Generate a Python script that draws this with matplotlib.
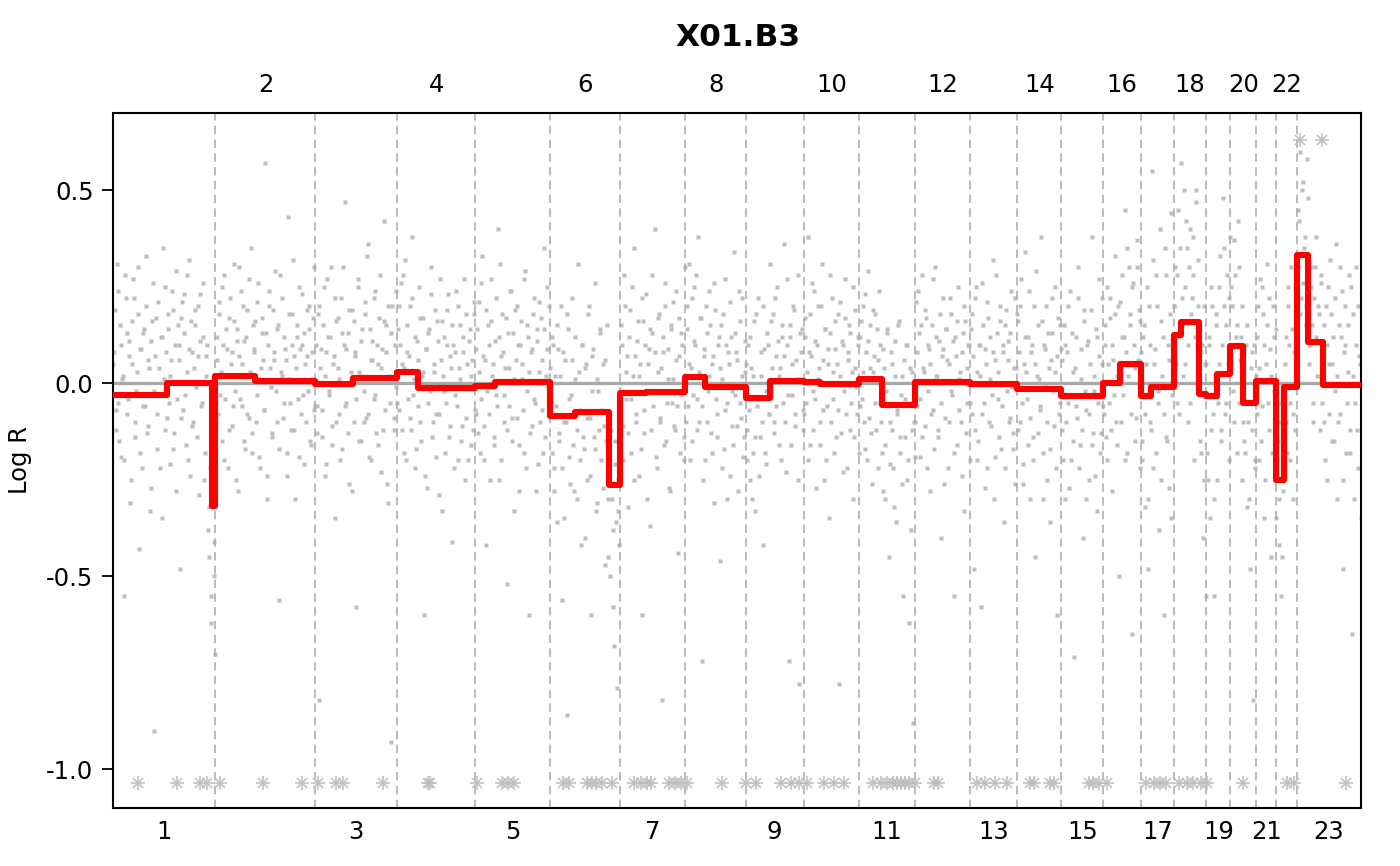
import numpy as np
import matplotlib.pyplot as plt

# chromosome lengths (Mb), 23 = X
chrom_len = [249.3, 243.2, 198.0, 191.2, 180.9, 171.1, 159.1, 146.4, 141.2, 135.5, 135.0, 133.9,
             115.2, 107.3, 102.5, 90.4, 81.2, 78.1, 59.1, 63.0, 48.1, 51.3, 155.3]
chrom_names = [str(i) for i in range(1, 24)]

# log R values per chromosome (in genomic order), two arrays of probes
logr = {
    1: [0.08, -0.12, 0.31, -0.05, 0.15, -0.19, 0.02, -0.55, 0.22, -0.08, 0.11, -0.31, 0.05, 0.27, -0.14, -0.02,
        0.18, -0.43, 0.09, -0.22, 0.13, -0.06, 0.33, -0.11, 0.04, -0.27, 0.16, -0.9, 0.07, -0.17, 0.21, -0.03,
        0.12, -0.35, 0.01, 0.25, -0.09, 0.14, -0.21, 0.06, 0.19, -0.13, 0.29, -0.04, 0.1, -0.48, 0.17, -0.07,
        0.23, -0.16, 0.03, 0.32, -0.24, 0.08, -0.1, 0.15, -0.01, 0.2, -0.29, 0.11, -0.05, 0.26, -0.18, 0.07,
        -0.38, -0.32, -0.62, -0.15, -0.41, -0.7],
    2: [0.12, -0.08, 0.21, 0.03, -0.15, 0.28, -0.04, 0.09, -0.22, 0.17, 0.05, -0.11, 0.31, -0.02, 0.14, -0.28,
        0.07, 0.24, -0.06, 0.11, -0.17, 0.19, 0.02, -0.09, 0.35, -0.13, 0.08, 0.16, -0.03, 0.26, -0.19, 0.04,
        0.13, -0.07, 0.57, -0.24, 0.1, 0.2, -0.01, -0.14, 0.06, 0.29, -0.1, 0.15, -0.56, 0.03, 0.22, -0.05,
        0.09, -0.18, 0.43, 0.01, -0.12, 0.18, 0.07, -0.3, 0.12, -0.04, 0.25, -0.08, 0.1, -0.21, 0.05, 0.19,
        -0.02, 0.14, -0.16, 0.08, 0.3, -0.06],
    3: [-0.06, 0.18, -0.82, 0.09, -0.14, 0.25, 0.02, -0.21, 0.12, -0.03, 0.3, -0.11, 0.07, -0.35, 0.16, 0.04,
        -0.08, 0.22, -0.17, 0.1, 0.47, -0.05, 0.13, -0.26, 0.01, 0.19, -0.1, 0.08, -0.58, 0.27, 0.03, -0.15,
        0.14, -0.02, 0.21, -0.09, 0.36, -0.19, 0.06, 0.11, -0.04, 0.24, -0.13, 0.05, 0.17, -0.23, 0.09, 0.42,
        -0.07, 0.15, -0.31, 0.02, -0.93, 0.2, -0.12, 0.1, -0.01],
    4: [0.14, -0.07, 0.26, 0.05, -0.18, 0.32, 0.08, -0.04, 0.2, -0.12, 0.38, 0.01, -0.22, 0.11, -0.06, 0.17,
        -0.15, 0.03, -0.6, 0.09, -0.27, 0.13, -0.02, 0.23, -0.1, 0.05, -0.19, 0.16, -0.08, 0.27, -0.33, 0.02,
        0.12, -0.05, 0.19, -0.14, 0.07, -0.41, 0.1, -0.03, 0.24, -0.2, 0.04, 0.15, -0.11, 0.08, -0.25, 0.18,
        -0.01, 0.11, -0.16, 0.06, 0.21, -0.07],
    5: [0.09, -0.13, 0.21, -0.04, 0.33, -0.2, 0.06, -0.42, 0.15, -0.08, 0.27, 0.02, -0.16, 0.11, -0.03, 0.4,
        -0.25, 0.07, 0.18, -0.1, 0.04, -0.52, 0.13, -0.06, 0.24, -0.15, 0.01, 0.19, -0.09, 0.1, -0.28, 0.16,
        0.05, -0.18, 0.29, -0.02, 0.12, -0.6, 0.08, -0.11, 0.22, -0.05, 0.14, -0.21, 0.03, 0.17, -0.07, 0.35,
        -0.14, 0.09, -0.01, 0.2],
    6: [-0.05, 0.12, -0.22, 0.02, -0.36, 0.09, -0.15, 0.2, -0.56, -0.1, 0.06, -0.86, 0.14, -0.19, -0.03, 0.22,
        -0.28, 0.01, -0.12, 0.31, -0.07, -0.42, 0.1, -0.17, 0.04, -0.25, 0.18, -0.09, -0.6, 0.07, -0.14, 0.26,
        -0.31, -0.02, 0.13, -0.2, 0.05, -0.11, -0.47, 0.15, -0.3, -0.5, -0.12, -0.38, -0.68, -0.21, -0.79,
        -0.33, -0.05],
    7: [0.15, -0.11, 0.28, -0.04, 0.07, -0.32, 0.19, -0.18, 0.02, 0.35, -0.08, 0.11, -0.24, 0.05, -0.6, 0.16,
        -0.13, 0.23, -0.02, 0.09, -0.37, 0.13, -0.06, 0.4, -0.19, 0.03, 0.18, -0.1, -0.82, 0.08, 0.26, -0.15,
        0.01, -0.27, 0.14, -0.05, 0.21, -0.12, 0.06, -0.44, 0.17, -0.03, 0.1, -0.2, 0.3],
    8: [0.2, -0.06, 0.31, 0.04, -0.15, 0.25, 0.1, -0.04, 0.38, -0.1, 0.17, -0.72, 0.07, -0.2, 0.13, -0.02,
        0.24, -0.13, 0.05, -0.31, 0.19, -0.08, 0.1, -0.46, 0.15, 0.01, -0.17, 0.27, -0.05, 0.08, -0.24, 0.12,
        -0.11, 0.34, -0.03, 0.06, -0.28, 0.16, -0.09, 0.22, -0.14, 0.03],
    9: [-0.12, 0.1, -0.25, 0.04, -0.18, 0.16, -0.33, -0.06, 0.22, -0.14, 0.02, -0.42, 0.09, -0.21, 0.13, -0.08,
        0.31, -0.02, 0.18, -0.1, 0.07, 0.25, -0.16, 0.04, 0.12, -0.05, 0.36, -0.23, 0.1, -0.72, 0.15, -0.03,
        0.2, -0.11, 0.06, 0.28, -0.78, 0.01, 0.14, -0.07],
    10: [0.17, -0.05, 0.38, 0.08, -0.16, 0.26, -0.02, 0.11, -0.27, 0.2, 0.04, -0.1, 0.31, -0.07, 0.14, -0.2,
         0.05, -0.35, 0.13, 0.22, -0.04, 0.09, -0.14, 0.18, -0.78, 0.02, 0.11, -0.23, 0.27, -0.08, 0.06, 0.15,
         -0.12, 0.03, -0.3, 0.19, -0.01, 0.1, -0.18],
    11: [0.12, -0.04, 0.2, -0.17, 0.08, 0.29, -0.09, 0.15, -0.26, 0.03, 0.18, -0.12, 0.06, 0.24, -0.05, -0.18,
         0.09, -0.3, -0.02, 0.14, -0.45, -0.1, 0.05, -0.22, 0.11, -0.36, -0.07, 0.16, -0.14, 0.02, -0.55, -0.04,
         0.1, -0.25, -0.62, 0.04, -0.12, -0.88, -0.19],
    12: [0.21, -0.06, 0.13, -0.19, 0.28, 0.04, -0.11, 0.17, -0.02, 0.09, -0.28, 0.15, -0.07, 0.3, 0.02, -0.14,
         0.11, -0.4, 0.07, 0.22, -0.09, 0.14, -0.22, 0.05, 0.18, -0.03, -0.55, 0.12, -0.16, 0.25, 0.01, -0.1,
         0.08, -0.33, 0.16, -0.05, 0.1, -0.2],
    13: [0.14, -0.08, -0.48, 0.22, 0.03, -0.15, 0.1, -0.58, 0.26, -0.05, 0.09, -0.22, 0.17, 0.01, -0.11, 0.32,
         -0.3, 0.06, 0.13, -0.04, 0.2, -0.17, 0.08, -0.36, 0.15, -0.02, 0.11, -0.09, 0.24, -0.13, 0.04, -0.26,
         0.18],
    14: [0.16, -0.1, 0.27, -0.21, 0.05, 0.34, -0.04, 0.12, -0.3, 0.08, -0.14, 0.2, -0.45, 0.02, 0.15, -0.07,
         0.38, -0.18, 0.1, -0.01, -0.25, 0.13, -0.36, 0.06, 0.22, -0.11, 0.03, -0.6, 0.17, -0.05, 0.09],
    15: [-0.12, 0.15, -0.3, 0.08, -0.05, 0.24, -0.2, 0.03, -0.71, 0.12, -0.09, 0.3, -0.16, 0.01, -0.4, 0.19,
         -0.07, 0.1, -0.25, 0.05, 0.38, -0.13, -0.02, 0.14, -0.33, 0.07, -0.18, 0.22, -0.06],
    16: [0.1, -0.14, 0.25, -0.05, 0.17, -0.28, 0.06, 0.33, -0.1, 0.02, -0.5, 0.21, 0.12, -0.03, 0.45, 0.08,
         -0.18, 0.3, 0.15, -0.65, 0.26, 0.04, -0.09, 0.37, 0.19, -0.22],
    17: [-0.15, 0.12, -0.32, 0.05, -0.48, 0.2, -0.1, 0.55, -0.22, 0.09, 0.28, -0.05, -0.38, 0.16, 0.02, -0.6,
         0.35, -0.14, 0.1, -0.27, 0.44, -0.03, 0.2],
    18: [0.3, -0.05, 0.45, 0.12, 0.57, 0.22, 0.5, 0.05, 0.35, -0.1, 0.4, 0.18, 0.28, -0.2, 0.47, 0.1, 0.32,
         -0.15, 0.08, -0.4, 0.2, -0.55],
    19: [-0.18, 0.1, -0.35, 0.25, -0.08, -0.55, 0.15, -0.25, 0.05, 0.33, -0.12, 0.48, 0.2, -0.05, 0.28, -0.2, 0.38],
    20: [0.25, -0.02, 0.37, 0.12, -0.18, 0.3, 0.06, 0.2, -0.1, -0.15, 0.1, -0.32, -0.05, -0.48, 0.08, -0.82,
         -0.22, 0.02],
    21: [0.12, -0.2, 0.27, -0.06, 0.18, -0.35, 0.05, 0.31, -0.12, 0.09, -0.45, 0.2, -0.02, 0.14],
    22: [-0.2, -0.42, -0.1, -0.55, -0.28, -0.15, 0.12, -0.18, 0.25, -0.05, 0.3, -0.3, 0.08, -0.12, 0.18],
    23: [0.45, 0.6, 0.22, 0.52, 0.35, 0.15, 0.58, 0.28, 0.1, 0.3, -0.05, 0.22, 0.38, 0.02, 0.18, -0.12, 0.26,
         0.08, -0.1, 0.2, -0.25, 0.05, 0.32, -0.15, 0.12, -0.02, 0.36, -0.3, 0.15, -0.08, 0.24, -0.48, 0.1,
         -0.18, 0.03, 0.28, -0.12, -0.65, 0.18, -0.05, 0.3, -0.22, 0.07, -0.35],
}
logr_b = {
    1: [0.05, 0.19, -0.07, 0.24, -0.15, 0.1, 0.01, -0.2, 0.28, 0.13, -0.04, 0.07, -0.25, 0.16, 0.22, -0.1,
        0.03, 0.3, -0.18, 0.09, -0.06, 0.14, 0.2, -0.13, 0.06, -0.33, 0.11, 0.26, -0.02, 0.17, -0.08, 0.04,
        -0.22, 0.12, 0.35, -0.12, 0.08, 0.18, -0.05, 0.02, 0.24, -0.17, 0.1, -0.28, 0.15, 0.06, -0.09, 0.21,
        0.13, -0.03, 0.28, -0.2, 0.09, 0.16, -0.11, 0.04, 0.19, -0.14, 0.07, 0.23, -0.06, 0.12, -0.25, 0.02,
        0.1, -0.45, -0.22, -0.55, -0.3, -0.5],
    2: [-0.1, 0.06, 0.18, -0.03, 0.25, 0.1, -0.2, 0.14, 0.02, -0.12, 0.22, 0.08, -0.06, 0.16, -0.25, 0.11,
        0.3, -0.04, 0.05, 0.2, -0.15, 0.12, -0.08, 0.27, 0.03, -0.18, 0.15, 0.09, -0.1, 0.21, 0.01, -0.22,
        0.17, 0.06, -0.07, 0.13, -0.3, 0.24, 0.04, -0.13, 0.19, 0.08, -0.02, 0.14, -0.17, 0.28, 0.02, -0.09,
        0.12, 0.06, -0.24, 0.18, -0.05, 0.1, 0.32, -0.12, 0.04, 0.15, -0.19, 0.09, 0.23, -0.03, 0.13, -0.1,
        0.07, 0.2, -0.15, 0.01, 0.17, -0.07],
    3: [0.1, -0.13, 0.2, 0.04, -0.07, 0.15, -0.24, 0.08, 0.27, -0.02, 0.12, -0.16, 0.05, 0.22, -0.1, 0.17,
        0.01, -0.2, 0.13, 0.3, -0.06, 0.09, -0.13, 0.19, 0.03, -0.28, 0.16, 0.07, -0.04, 0.25, -0.15, 0.11,
        0.02, -0.1, 0.18, 0.33, -0.08, 0.14, -0.2, 0.06, 0.22, -0.03, 0.1, -0.16, 0.28, 0.04, -0.12, 0.16,
        0.08, -0.26, 0.2, -0.05, 0.13, 0.01, -0.09, 0.24],
    4: [-0.05, 0.2, 0.1, -0.12, 0.28, 0.04, -0.2, 0.15, 0.07, -0.09, 0.22, -0.03, 0.12, -0.17, 0.06, 0.25,
        -0.1, 0.02, 0.17, -0.24, 0.09, -0.05, 0.14, 0.3, -0.14, 0.03, 0.19, -0.08, 0.11, -0.29, 0.06, 0.16,
        -0.02, -0.18, 0.1, 0.23, -0.11, 0.04, 0.15, -0.22, 0.08, -0.06, 0.2, 0.01, -0.15, 0.12, 0.27, -0.09,
        0.05, -0.2, 0.14, 0.02, -0.12, 0.18],
    5: [-0.08, 0.14, 0.03, -0.18, 0.26, 0.07, -0.11, 0.19, -0.02, 0.1, -0.25, 0.16, 0.05, -0.14, 0.22, -0.06,
        0.12, 0.31, -0.2, 0.08, -0.03, 0.17, -0.12, 0.04, 0.24, -0.09, 0.13, -0.33, 0.06, 0.2, -0.16, 0.1,
        0.01, -0.07, 0.27, -0.22, 0.15, 0.03, -0.13, 0.09, 0.18, -0.04, -0.28, 0.11, 0.21, -0.1, 0.06, -0.18,
        0.14, 0.02, 0.25, -0.05],
    6: [0.04, -0.18, 0.1, -0.28, -0.06, 0.15, -0.13, 0.02, -0.22, 0.08, -0.35, -0.1, 0.18, -0.04, -0.26, 0.06,
        -0.16, 0.12, -0.08, -0.3, 0.03, -0.2, 0.1, -0.14, -0.4, 0.05, -0.09, 0.2, -0.24, -0.02, 0.09, -0.17,
        -0.33, 0.01, -0.12, 0.14, -0.07, -0.27, 0.06, -0.15, -0.45, -0.2, -0.08, -0.3, -0.58, -0.15, -0.36,
        -0.25, -0.42],
    7: [-0.06, 0.1, -0.2, 0.2, 0.03, -0.13, 0.12, -0.04, 0.25, -0.25, 0.07, -0.1, 0.16, 0.02, -0.17, 0.22,
        -0.07, 0.1, -0.3, 0.05, 0.14, -0.12, 0.28, -0.02, 0.08, -0.22, 0.17, -0.09, 0.04, 0.12, -0.16, 0.2,
        -0.05, 0.09, -0.28, 0.15, 0.01, -0.11, 0.24, -0.06, 0.07, -0.18, 0.13, -0.01, -0.14],
    8: [-0.1, 0.14, 0.05, -0.2, 0.22, -0.03, 0.11, 0.28, -0.12, 0.03, 0.17, -0.06, -0.25, 0.09, 0.2, -0.1,
        0.02, 0.15, -0.18, 0.07, 0.26, -0.04, -0.14, 0.12, 0.04, -0.22, 0.18, -0.07, 0.1, -0.3, 0.05, 0.21,
        -0.02, -0.16, 0.13, 0.08, -0.11, 0.24, -0.05, 0.02, -0.19, 0.11],
    9: [0.05, -0.2, -0.07, 0.12, -0.3, 0.02, -0.14, 0.18, -0.04, -0.24, 0.08, -0.1, 0.2, -0.18, -0.02, 0.1,
        -0.08, 0.16, 0.04, -0.13, 0.22, -0.06, 0.11, 0.02, -0.2, 0.15, 0.07, -0.1, 0.27, -0.03, 0.12, -0.16,
        0.05, 0.19, -0.08, 0.01, -0.25, 0.13, 0.08, -0.12],
    10: [-0.08, 0.12, 0.03, -0.2, 0.18, 0.07, -0.12, 0.24, -0.04, 0.1, 0.01, -0.16, 0.2, 0.06, -0.25, 0.14,
         -0.06, 0.09, 0.28, -0.1, 0.03, -0.18, 0.16, 0.05, -0.07, 0.21, -0.13, 0.1, -0.02, 0.17, -0.22, 0.08,
         0.13, -0.05, 0.25, -0.14, 0.04, -0.08, 0.12],
    11: [-0.06, 0.16, 0.03, -0.1, 0.23, -0.2, 0.11, 0.04, -0.13, 0.19, 0.07, -0.05, 0.14, -0.22, 0.1, -0.1,
         -0.28, 0.04, -0.16, 0.13, -0.06, -0.21, 0.08, -0.12, -0.32, 0.02, -0.08, 0.15, -0.18, -0.03, -0.26,
         0.06, -0.14, 0.1, -0.2, -0.05, -0.38, 0.03, -0.1],
    12: [-0.1, 0.08, 0.24, -0.04, 0.15, -0.14, 0.03, 0.19, -0.22, 0.1, 0.05, -0.08, 0.27, -0.17, 0.12, 0.02,
         -0.12, 0.18, -0.05, 0.09, -0.26, 0.14, 0.06, -0.1, 0.22, -0.02, 0.11, -0.18, 0.07, 0.16, -0.07, 0.03,
         -0.24, 0.13, 0.2, -0.13, 0.04, 0.1],
    13: [-0.05, 0.18, 0.07, -0.12, 0.25, -0.2, 0.1, 0.02, -0.08, 0.15, -0.27, 0.05, 0.21, -0.1, 0.12, -0.03,
         0.08, -0.19, 0.28, 0.03, -0.14, 0.16, -0.06, 0.1, -0.22, 0.19, 0.06, -0.1, 0.13, -0.01, -0.17, 0.22,
         0.04],
    14: [-0.12, 0.08, 0.2, -0.05, -0.26, 0.12, 0.03, -0.16, 0.24, -0.09, 0.1, -0.2, 0.05, 0.29, -0.13, 0.01,
         -0.06, 0.16, -0.3, 0.09, 0.2, -0.1, 0.04, -0.17, 0.13, -0.02, 0.25, -0.22, 0.07, -0.08, 0.15],
    15: [0.06, -0.2, 0.1, -0.1, 0.2, -0.27, -0.03, 0.13, -0.15, 0.04, -0.06, 0.22, -0.22, 0.09, -0.12, 0.16,
         -0.02, -0.3, 0.11, -0.08, 0.19, -0.16, 0.02, -0.24, 0.12, -0.05, 0.27, -0.13, 0.05],
    16: [-0.08, 0.15, -0.2, 0.05, 0.22, -0.12, 0.1, -0.03, 0.18, -0.16, 0.2, 0.05, -0.1, 0.28, 0.12, -0.2,
         0.35, 0.02, 0.18, -0.08, 0.25, 0.1, -0.15, 0.3, 0.06, 0.16],
    17: [0.08, -0.2, 0.15, -0.08, 0.25, -0.3, 0.1, -0.12, 0.32, 0.05, -0.18, 0.2, -0.02, 0.4, -0.25, 0.12,
         -0.08, 0.28, -0.15, 0.06, 0.18, -0.35, 0.1],
    18: [0.2, 0.05, 0.28, -0.08, 0.35, 0.15, 0.02, 0.25, 0.42, 0.1, 0.3, -0.05, 0.22, 0.38, 0.12, 0.5, 0.2,
         0.02, -0.18, 0.1, -0.25, 0.05],
    19: [0.05, -0.25, 0.12, -0.12, 0.2, -0.3, 0.02, 0.18, -0.05, 0.25, -0.15, 0.1, 0.35, -0.08, 0.15, 0.05, 0.22],
    20: [0.05, 0.2, -0.1, 0.28, 0.15, 0.42, -0.05, 0.12, -0.25, 0.08, -0.18, 0.15, -0.1, -0.3, 0.04, -0.12,
         0.1, -0.2],
    21: [-0.08, 0.2, 0.04, -0.15, 0.25, 0.1, -0.25, 0.15, -0.05, 0.22, 0.02, -0.18, 0.12, -0.1],
    22: [-0.35, -0.15, -0.3, -0.05, -0.45, -0.22, 0.05, -0.1, 0.2, 0.1, -0.2, 0.14, -0.08, 0.25, 0.02],
    23: [0.3, 0.42, 0.18, 0.5, 0.26, 0.38, 0.2, 0.48, 0.05, 0.25, 0.15, -0.1, 0.3, 0.12, 0.2, 0.02, 0.28,
         -0.05, 0.15, -0.2, 0.1, 0.25, -0.08, 0.18, 0.05, -0.15, 0.22, 0.02, -0.1, 0.3, 0.12, -0.25, 0.08,
         0.2, -0.05, 0.15, -0.18, 0.25, 0.02, -0.3, 0.1, -0.12, 0.2, 0.05],
}

# segments: chromosome, start, end (Mb within chromosome), mean log R
seg_chrom = [1, 1, 1, 2, 2, 3, 3, 4, 4, 5, 5, 6, 6, 6, 7, 7, 8, 8, 9, 9, 10, 10, 11, 11, 12, 13, 14, 15,
             16, 16, 17, 17, 18, 18, 18, 19, 19, 20, 20, 21, 22, 22, 23, 23, 23]
seg_start = [0, 130.7, 240.0, 0, 96.7, 0, 92.5, 0, 51.1, 0, 46.8, 0, 61.2, 144.0, 0, 63.3, 0, 47.2, 0, 59.3,
             0, 39.6, 0, 54.1, 0, 0, 0, 0, 0, 40.2, 0, 24.6, 0, 16.6, 60.6, 0, 27.5, 0, 30.2, 0, 0, 20.3,
             0, 27.5, 64.0]
seg_end = [130.7, 240.0, 249.3, 96.7, 243.2, 92.5, 198.0, 51.1, 191.2, 46.8, 180.9, 61.2, 144.0, 171.1,
           63.3, 159.1, 47.2, 146.4, 59.3, 141.2, 39.6, 135.5, 54.1, 135.0, 133.9, 115.2, 107.3, 102.5,
           40.2, 90.4, 24.6, 81.2, 16.6, 60.6, 78.1, 27.5, 59.1, 30.2, 63.0, 48.1, 20.3, 51.3, 27.5, 64.0, 155.3]
seg_mean = [-0.030, 0.002, -0.318, 0.020, 0.007, -0.002, 0.013, 0.030, -0.011, -0.008, 0.003, -0.084, -0.075,
            -0.263, -0.026, -0.022, 0.017, -0.009, -0.039, 0.005, 0.004, -0.002, 0.010, -0.055, 0.003, -0.002,
            -0.016, -0.034, 0.000, 0.051, -0.033, -0.009, 0.124, 0.159, -0.028, -0.034, 0.025, 0.096, -0.051,
            0.006, -0.251, -0.009, 0.331, 0.107, -0.005]

# probes outside the y range (genome position, Mb)
clip_low = [61.8, 156.2, 211.0, 227.7, 260.6, 364.7, 459.1, 498.8, 543.6, 558.4, 657.7, 766.9, 772.0, 886.1,
            945.5, 960.6, 975.7, 1094.6, 1109.5, 1154.3, 1164.2, 1174.2, 1189.1, 1213.9, 1268.6, 1283.5,
            1298.3, 1308.3, 1352.8, 1367.9, 1382.7, 1397.6, 1482.0, 1540.1, 1565.0, 1624.6, 1649.4, 1669.3,
            1689.1, 1728.7, 1753.8, 1778.6, 1847.9, 1867.9, 1882.7, 1897.8, 1907.5, 1917.5, 1927.5, 1937.5,
            1952.3, 1997.1, 2006.8, 2101.2, 2121.2, 2146.0, 2175.7, 2230.4, 2240.4, 2280.1, 2290.0, 2374.5,
            2384.2, 2399.3, 2419.0, 2513.4, 2533.3, 2548.2, 2563.0, 2593.0, 2612.7, 2627.5, 2647.5, 2662.3,
            2749.6, 2856.0, 2872.7, 3000.0]
clip_high = [2888.0, 2941.0]

title = "X01.B3"
ylo, yhi = -1.1, 0.7

chrom_start = np.concatenate([[0], np.cumsum(chrom_len)[:-1]])
total = sum(chrom_len)

fig = plt.figure(figsize=(14, 8.66), dpi=100)
ax = fig.add_axes([113 / 1400, 1 - 808 / 866, 1248 / 1400, 695 / 866])

grey = '#bebebe'

# probes
for c in range(1, 24):
    for vals, shift in [(logr[c], 0.5), (logr_b[c], 0.0)]:
        vals = np.array(vals)
        n = len(vals)
        xs = chrom_start[c - 1] + (np.arange(n) + shift + 0.25) / n * chrom_len[c - 1]
        ax.plot(xs, vals, 's', ms=3.2, mec='none', mfc=grey, zorder=1)

# chromosome boundaries
for b in chrom_start[1:]:
    ax.axvline(b, color='#a8a8a8', lw=1.1, dashes=(5.5, 3.5), zorder=2)

ax.axhline(0, color='#a9a9a9', lw=2.4, zorder=2)

# segmentation
sx, sy = [], []
for c, s, e, m in zip(seg_chrom, seg_start, seg_end, seg_mean):
    off = chrom_start[c - 1]
    sx += [off + s, off + e]
    sy += [m, m]
ax.plot(sx, sy, color='#ff0000', lw=4.4, solid_joinstyle='round', solid_capstyle='round', zorder=3)

# clipped probes
for pos, yv in [(clip_low, -1.035), (clip_high, 0.63)]:
    ax.plot(pos, [yv] * len(pos), '+', ms=10, mew=1.1, color=grey, zorder=4)
    ax.plot(pos, [yv] * len(pos), 'x', ms=7, mew=1.1, color=grey, zorder=4)

ax.set_xlim(0, total)
ax.set_ylim(ylo, yhi)

ax.set_yticks([0.5, 0.0, -0.5, -1.0])
ax.set_yticklabels(['0.5', '0.0', '-0.5', '-1.0'])
ax.tick_params(axis='y', length=8, width=1.3, labelsize=17.5, pad=6)
ax.set_xticks([])
for sp in ax.spines.values():
    sp.set_linewidth(1.5)

# chromosome labels: odd below, even above
centers = chrom_start + np.array(chrom_len) / 2
for i, name in enumerate(chrom_names):
    if (i + 1) % 2 == 1:
        ax.text(centers[i], -24 / 695, name, transform=ax.get_xaxis_transform(),
                ha='center', va='center', fontsize=17.5)
    else:
        ax.text(centers[i], 1 + 28 / 695, name, transform=ax.get_xaxis_transform(),
                ha='center', va='center', fontsize=17.5)

ax.set_ylabel('Log R', fontsize=17.5, labelpad=10)
fig.text(738 / 1400, 1 - 38 / 866, title, ha='center', va='center', fontsize=22.5, fontweight='bold')

fig.savefig('out.png', dpi=100)
